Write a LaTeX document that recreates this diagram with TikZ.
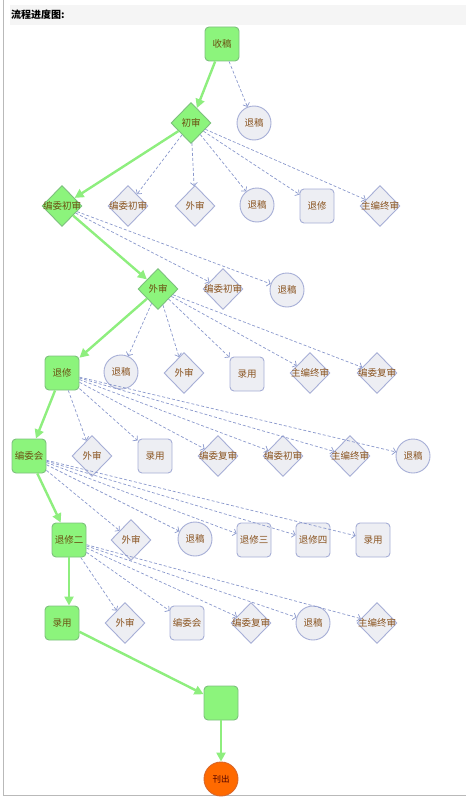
\documentclass[tikz,border=0pt]{standalone}
\usepackage{fontspec}
\newfontfamily\cjk{Noto Sans CJK SC}
\usetikzlibrary{shapes.geometric,arrows.meta}
\definecolor{gfill}{HTML}{8CF47C}
\definecolor{gdraw}{HTML}{7CC07C}
\definecolor{pfill}{HTML}{EDEEF3}
\definecolor{pdraw}{HTML}{A6AED6}
\definecolor{txt}{HTML}{8A5420}
\definecolor{gtxt}{HTML}{6A5010}
\definecolor{garrow}{HTML}{8EEE7E}
\definecolor{darrow}{HTML}{8A98CC}
\definecolor{ofill}{HTML}{FF6A00}
\definecolor{odraw}{HTML}{D8662A}
\begin{document}
\begin{tikzpicture}[x=1pt,y=-1pt,
  lbl/.style={font=\cjk\fontsize{9.5}{10}\selectfont, text=txt},
  glbl/.style={font=\cjk\fontsize{9.5}{10}\selectfont, text=gtxt},
  gbox/.style={rectangle, rounded corners=4pt, minimum size=34pt, inner sep=0pt, fill=gfill, draw=gdraw, line width=0.9pt, label={[glbl]center:#1}},
  pbox/.style={rectangle, rounded corners=4pt, minimum size=34pt, inner sep=0pt, fill=pfill, draw=pdraw, line width=0.9pt, label={[lbl]center:#1}},
  gdia/.style={diamond, minimum width=40pt, minimum height=41pt, inner sep=0pt, fill=gfill, draw=gdraw, line width=0.9pt, label={[glbl]center:#1}},
  pdia/.style={diamond, minimum width=40pt, minimum height=41pt, inner sep=0pt, fill=pfill, draw=pdraw, line width=0.9pt, label={[lbl]center:#1}},
  pcirc/.style={circle, minimum size=34pt, inner sep=0pt, fill=pfill, draw=pdraw, line width=0.9pt, label={[lbl]center:#1}},
  gline/.style={draw=garrow, line width=2.4pt, -{Triangle[length=9pt,width=9pt]}},
  dline/.style={draw=darrow, line width=0.7pt, dash pattern=on 3pt off 2pt, -{Straight Barb[length=3pt,width=7pt]}}
]
\useasboundingbox (0,0) rectangle (466,800);
\fill[gray!8] (10,5) rectangle (466,25);
\node[anchor=west, font=\cjk\bfseries\fontsize{10}{12}\selectfont, inner sep=0pt] (title) at (11,15) {流程进度图:};
\draw[gray!55, line width=1pt] (3,0) -- (3,795.5) -- (466,795.5);

% main column
\node[gbox=收稿] (sg) at (222,44) {};
\node[pcirc=退稿] (r1) at (254,123) {};
\node[gdia=初审] (cs) at (191,123) {};

\node[gdia=编委初审] (bw1) at (62,206) {};
\node[pdia=编委初审] (a1) at (128,206) {};
\node[pdia=外审] (a2) at (195,206) {};
\node[pcirc=退稿] (a3) at (257,205) {};
\node[pbox=退修] (a4) at (317,206) {};
\node[pdia=主编终审] (a5) at (380,206) {};

\node[gdia=外审] (ws) at (158,289) {};
\node[pdia=编委初审] (b1) at (223,289) {};
\node[pcirc=退稿] (b2) at (287,290) {};

\node[gbox=退修] (tx) at (62,373) {};
\node[pcirc=退稿] (c1) at (121,372) {};
\node[pdia=外审] (c2) at (184,373) {};
\node[pbox=录用] (c3) at (247,374) {};
\node[pdia=主编终审] (c4) at (310,373) {};
\node[pdia=编委复审] (c5) at (377,373) {};

\node[gbox=编委会] (bwh) at (29,456) {};
\node[pdia=外审] (d1) at (92,456) {};
\node[pbox=录用] (d2) at (155,456) {};
\node[pdia=编委复审] (d3) at (218,456) {};
\node[pdia=编委初审] (d4) at (283,456) {};
\node[pdia=主编终审] (d5) at (350,456) {};
\node[pcirc=退稿] (d6) at (413,456) {};

\node[gbox=退修二] (tx2) at (69,540) {};
\node[pdia=外审] (e1) at (131,540) {};
\node[pcirc=退稿] (e2) at (195,539) {};
\node[pbox=退修三] (e3) at (254,540) {};
\node[pbox=退修四] (e4) at (313,540) {};
\node[pbox=录用] (e5) at (373,540) {};

\node[gbox=录用] (ly) at (62,623) {};
\node[pdia=外审] (f1) at (125,623) {};
\node[pbox=编委会] (f2) at (187,623) {};
\node[pdia=编委复审] (f3) at (251,623) {};
\node[pcirc=退稿] (f4) at (313,623) {};
\node[pdia=主编终审] (f5) at (377,623) {};

\node[gbox=] (end) at (221,703) {};
\node[circle, minimum size=34pt, inner sep=0pt, fill=ofill, draw=odraw, line width=0.9pt, font=\cjk\fontsize{8.5}{9}\selectfont, text=black!70!red] (kc) at (221,779) {刊出};

% main green flow
\draw[gline] (sg) -- (cs);
\draw[gline] (cs) -- (bw1);
\draw[gline] (bw1) -- (ws);
\draw[gline] (ws) -- (tx);
\draw[gline] (tx) -- (bwh);
\draw[gline] (bwh) -- (tx2);
\draw[gline] (tx2.south) -- (ly.north -| tx2.south);
\draw[gline] (ly) -- (end);
\draw[gline] (end) -- (kc);

% dashed alternatives
\draw[dline] (sg) -- (r1);
\foreach \t in {a1,a2,a3,a4,a5} \draw[dline] (cs) -- (\t);
\foreach \t in {b1,b2} \draw[dline] (bw1) -- (\t);
\foreach \t in {c1,c2,c3,c4,c5} \draw[dline] (ws) -- (\t);
\foreach \t in {d1,d2,d3,d4,d5,d6} \draw[dline] (tx) -- (\t);
\foreach \t in {e1,e2,e3,e4,e5} \draw[dline] (bwh) -- (\t);
\foreach \t in {f1,f2,f3,f4,f5} \draw[dline] (tx2) -- (\t);
\end{tikzpicture}
\end{document}
